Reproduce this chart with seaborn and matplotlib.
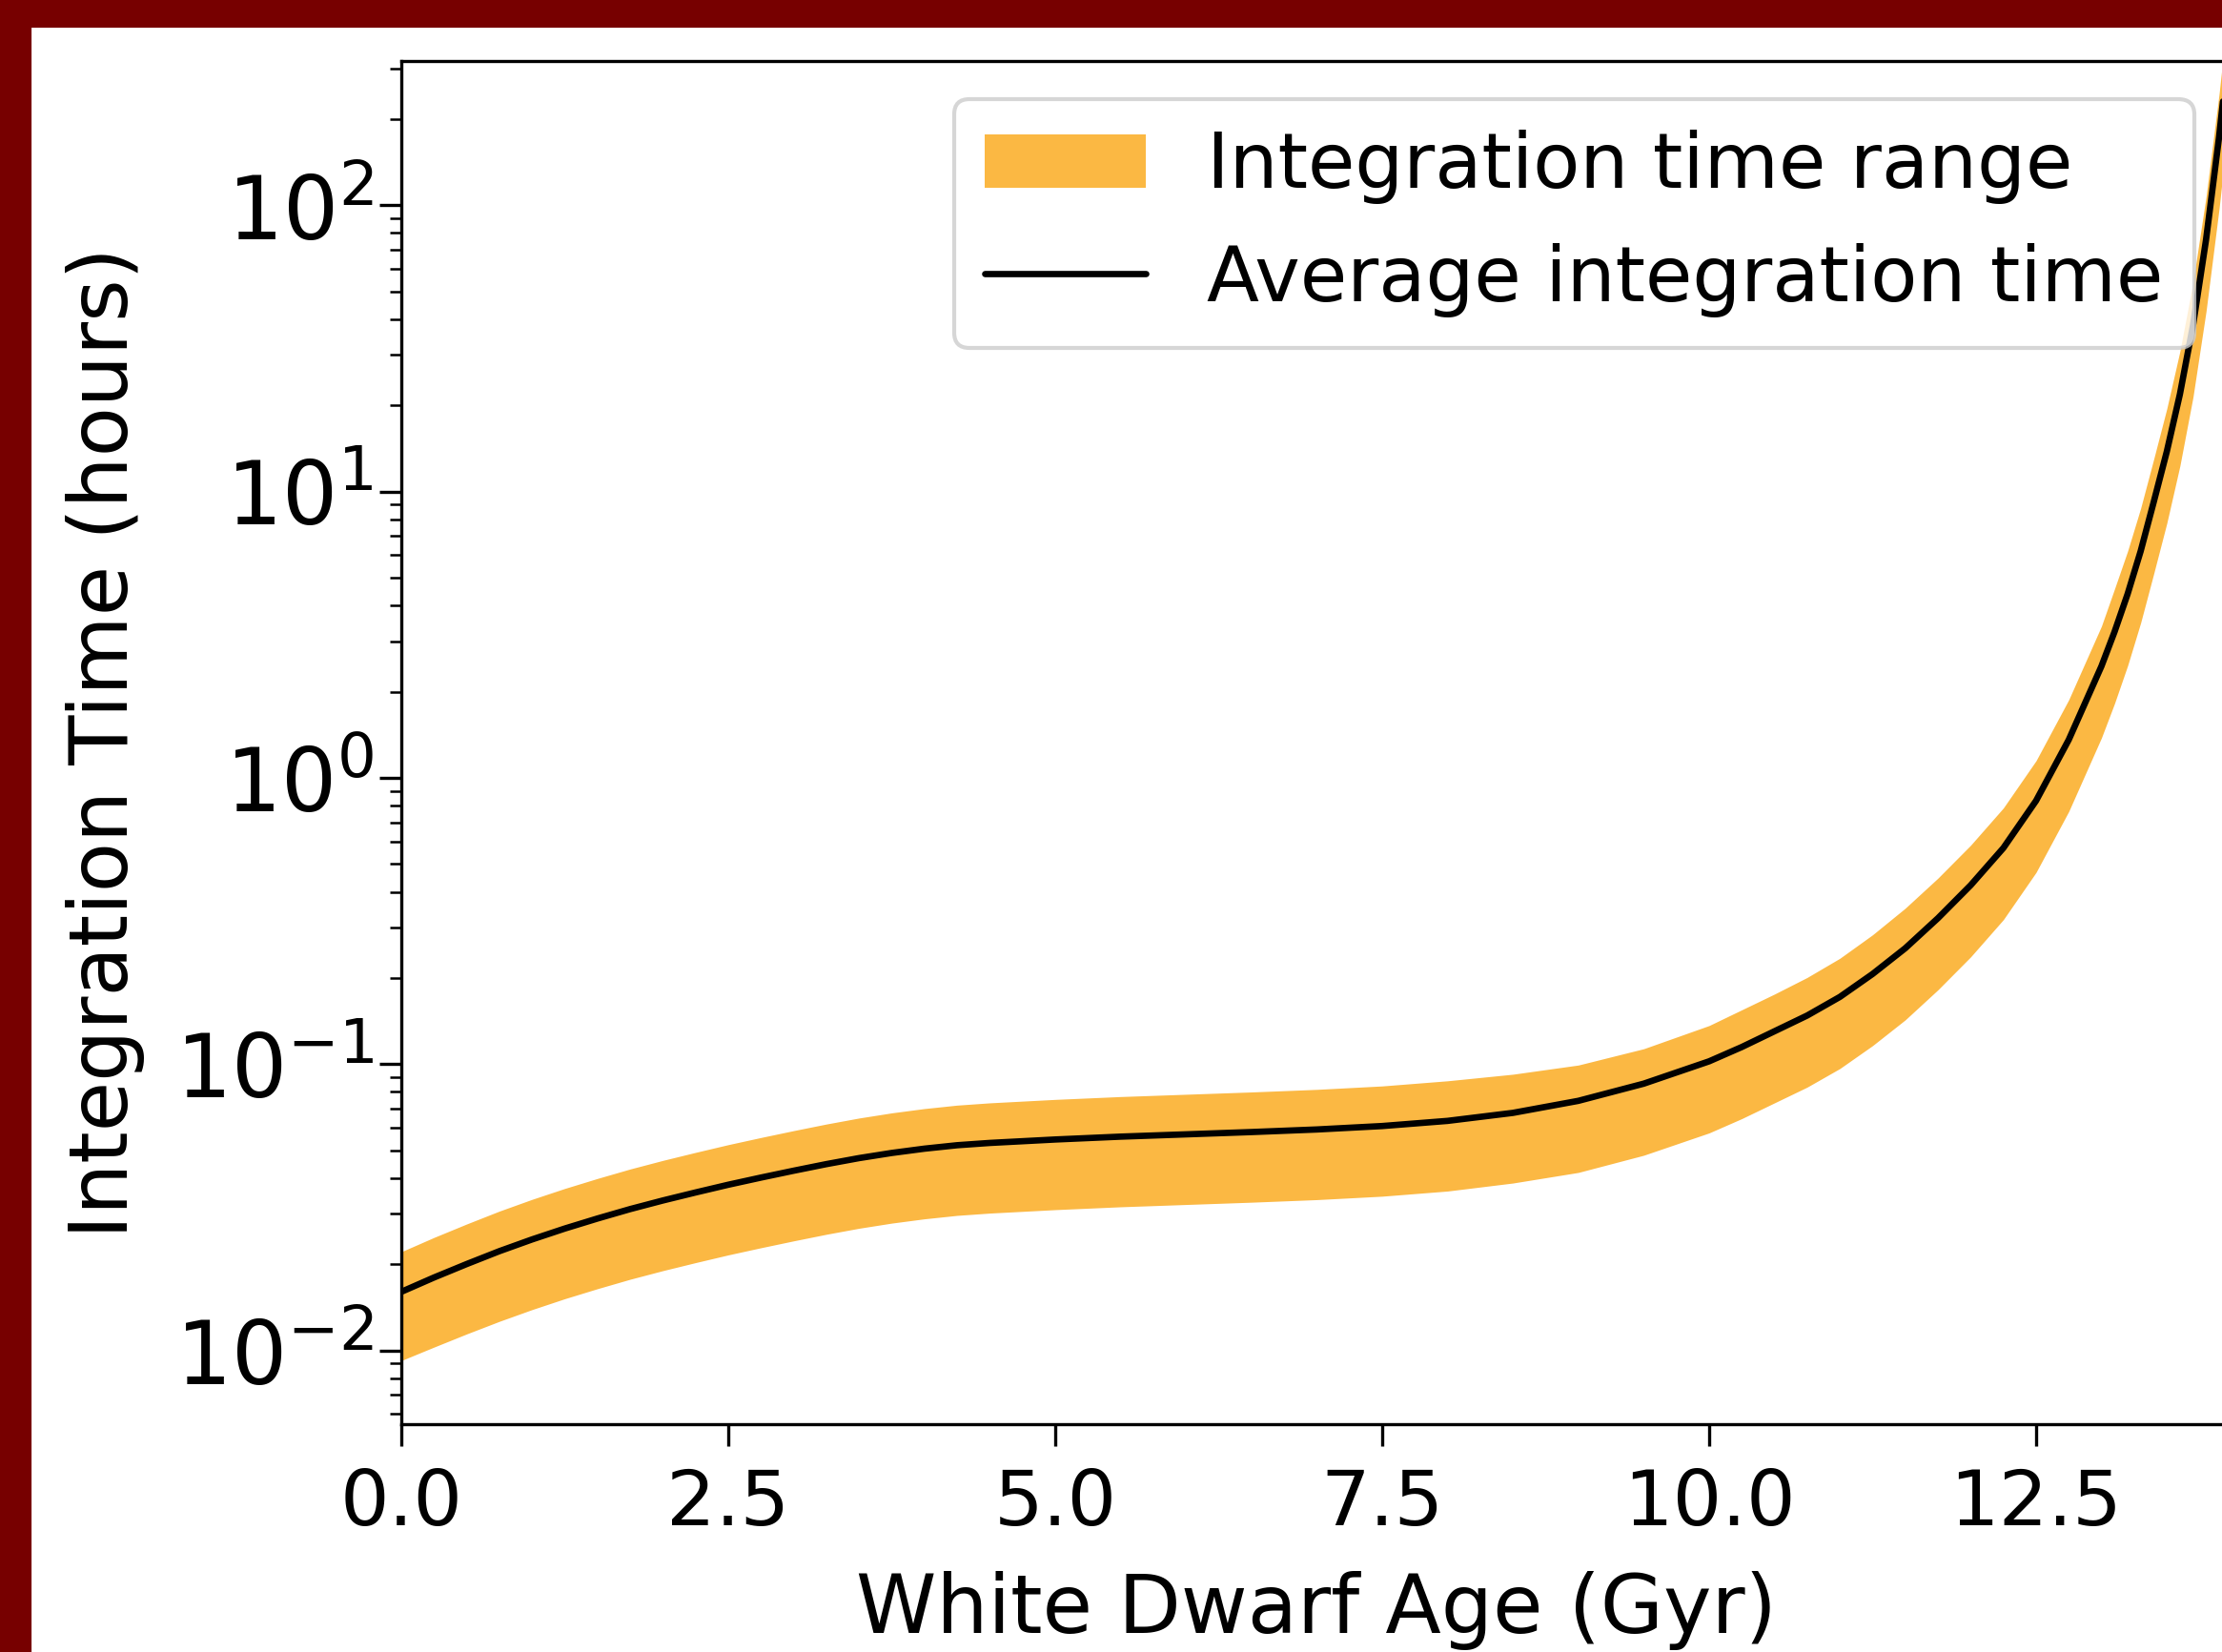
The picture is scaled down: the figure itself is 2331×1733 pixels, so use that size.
"""Integration time vs white dwarf age, log-scale band plot."""
import matplotlib

matplotlib.use("Agg")
import matplotlib.pyplot as plt
import numpy as np
import seaborn as sns
from matplotlib.patches import Rectangle

# values; y values are log10(hours)
age_gyr = [0.0, 0.25, 0.5, 0.75, 1.0, 1.25, 1.5, 1.75, 2.0, 2.25, 2.5, 2.75,
           3.0, 3.25, 3.5, 3.75, 4.0, 4.25, 4.5, 5.0, 5.5, 6.0, 6.5, 7.0, 7.5,
           8.0, 8.5, 9.0, 9.5, 10.0, 10.25, 10.5, 10.75, 11.0, 11.25, 11.5,
           11.75, 12.0, 12.25, 12.5, 12.75, 13.0, 13.1, 13.2, 13.3, 13.4, 13.5,
           13.6, 13.7, 13.8, 13.9, 14.0]
avg_log10 = [-1.795, -1.745, -1.698, -1.653, -1.612, -1.574, -1.539, -1.506,
             -1.476, -1.448, -1.421, -1.396, -1.372, -1.349, -1.328, -1.310,
             -1.295, -1.283, -1.275, -1.263, -1.253, -1.245, -1.237, -1.228,
             -1.216, -1.198, -1.170, -1.128, -1.068, -0.990, -0.940, -0.885,
             -0.830, -0.765, -0.685, -0.595, -0.490, -0.375, -0.245, -0.080,
             0.133, 0.390, 0.510, 0.642, 0.792, 0.964, 1.140, 1.340, 1.580,
             1.880, 2.240, 2.660]
upper_log10 = [-1.655, -1.605, -1.558, -1.513, -1.472, -1.434, -1.399, -1.366,
               -1.336, -1.308, -1.281, -1.256, -1.232, -1.209, -1.188, -1.170,
               -1.155, -1.143, -1.135, -1.123, -1.113, -1.105, -1.097, -1.088,
               -1.076, -1.058, -1.035, -1.003, -0.946, -0.865, -0.810, -0.755,
               -0.697, -0.630, -0.548, -0.455, -0.350, -0.235, -0.105, 0.060,
               0.273, 0.530, 0.660, 0.792, 0.942, 1.114, 1.290, 1.490, 1.730,
               2.030, 2.390, 2.810]
lower_log10 = [-2.035, -1.988, -1.942, -1.898, -1.857, -1.819, -1.784, -1.751,
               -1.721, -1.693, -1.666, -1.641, -1.617, -1.594, -1.573, -1.555,
               -1.540, -1.528, -1.520, -1.508, -1.498, -1.490, -1.482, -1.473,
               -1.461, -1.443, -1.415, -1.378, -1.318, -1.240, -1.190, -1.135,
               -1.080, -1.015, -0.935, -0.845, -0.740, -0.625, -0.495, -0.330,
               -0.117, 0.140, 0.260, 0.392, 0.542, 0.714, 0.890, 1.090, 1.330,
               1.630, 1.990, 2.410]
age_ticks = [0.0, 2.5, 5.0, 7.5, 10.0, 12.5]

avg_hours = 10 ** np.array(avg_log10)
upper_hours = 10 ** np.array(upper_log10)
lower_hours = 10 ** np.array(lower_log10)

sns.set_theme(style="ticks")
plt.rcParams["font.family"] = ["DejaVu Sans"]
plt.rcParams.update({
    "axes.linewidth": 0.8,
    "axes.edgecolor": "black",
    "xtick.color": "black",
    "ytick.color": "black",
    "xtick.major.size": 5.5,
    "ytick.major.size": 5.5,
    "ytick.minor.size": 3.0,
    "xtick.major.width": 0.8,
    "ytick.major.width": 0.8,
    "ytick.minor.width": 0.6,
    "xtick.major.pad": 5.4,
    "ytick.major.pad": 1.5,
    "ytick.minor.pad": 1.5,
    "axes.labelcolor": "black",
    "text.color": "black",
})

fig = plt.figure(figsize=(2331 / 300, 1733 / 300), dpi=300, facecolor="white")
# axes runs past the right edge, like the cropped slide
ax = fig.add_axes([0.1806, 0.1379, 0.8240, 0.8252])
ax.set_yscale("log")

ax.fill_between(age_gyr, lower_hours, upper_hours, color="#fbb843", lw=0,
                label="Integration time range")
sns.lineplot(x=age_gyr, y=avg_hours, color="black", lw=1.6,
             label="Average integration time", ax=ax)

ax.set_xlim(0, 14)
ax.set_ylim(0.00553, 319)
ax.set_xticks(age_ticks)
ax.tick_params(axis="x", labelsize=19.5)
ax.tick_params(axis="y", which="both", labelsize=22)
ax.set_xlabel("White Dwarf Age (Gyr)", fontsize=20.5, labelpad=7.3)
ax.set_ylabel("Integration Time (hours)", fontsize=20.5, labelpad=7.6)
ax.legend(loc="upper right", fontsize=19.3, handlelength=2.1)

# dark red slide frame on top and left
frame = "#770000"
fig.patches.append(Rectangle((0, 1 - 27 / 1733), 1, 27 / 1733,
                             transform=fig.transFigure, color=frame, zorder=10))
fig.patches.append(Rectangle((0, 0), 31 / 2331, 1,
                             transform=fig.transFigure, color=frame, zorder=10))

fig.savefig("out.png", dpi=300, facecolor="white")
plt.close(fig)
